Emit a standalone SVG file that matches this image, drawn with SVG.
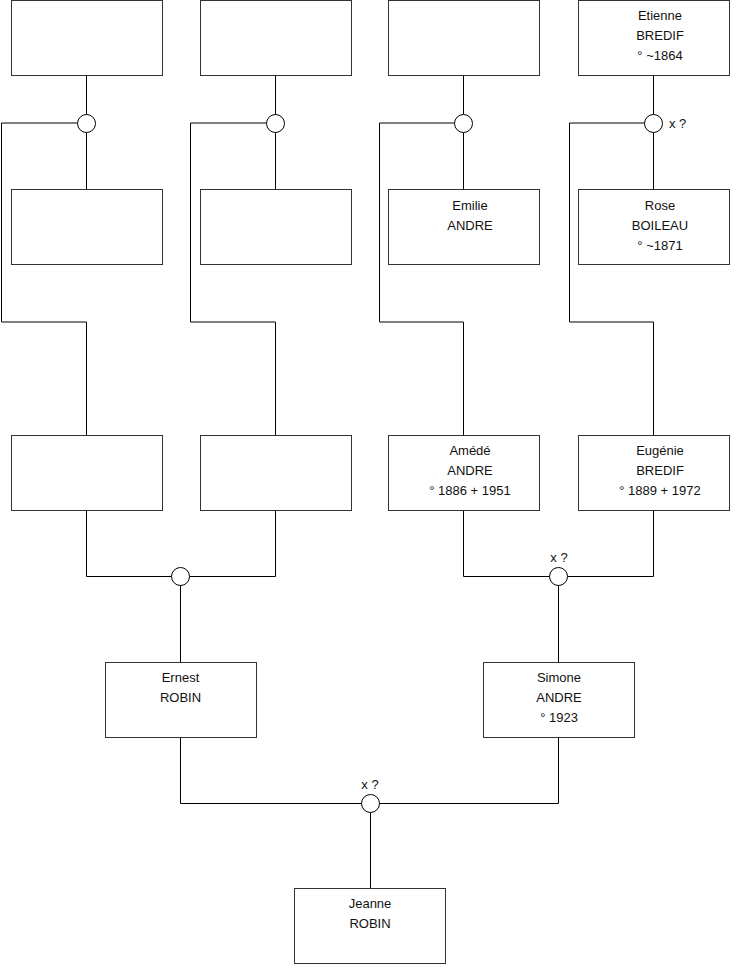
<svg xmlns="http://www.w3.org/2000/svg" width="740" height="975" viewBox="0 0 740 975">
<style>
.box{fill:#fff;stroke:#333;stroke-width:1}
.ln{fill:none;stroke:#000;stroke-width:1}
.ring{fill:#fff;stroke:#000;stroke-width:1}
text{font-family:"Liberation Sans",Arial,sans-serif;font-size:13px;fill:#111;text-anchor:middle}
.lab{text-anchor:start}
</style>
<rect width="740" height="975" fill="#fff"/>
<g id="connectors">
<path class="ln" d="M86.5 75.5V189.5M86.5 123H1.5V322H86.5V435.5"/>
<path class="ln" d="M275.5 75.5V189.5M275.5 123H190.5V322H275.5V435.5"/>
<path class="ln" d="M463.5 75.5V189.5M463.5 123H379.5V322H463.5V435.5"/>
<path class="ln" d="M653.5 75.5V189.5M653.5 123H569.5V322H653.5V435.5"/>
<path class="ln" d="M86.5 510.5V576.5H275.5V510.5M180.5 576.5V662.5"/>
<path class="ln" d="M463.5 510.5V576.5H653.5V510.5M558.5 576.5V662.5"/>
<path class="ln" d="M180.5 737.5V803.5H558.5V737.5M370.5 803.5V888.5"/>
<circle class="ring" cx="86.5" cy="123.5" r="9"/>
<circle class="ring" cx="275.5" cy="123.5" r="9"/>
<circle class="ring" cx="463.5" cy="123.5" r="9"/>
<circle class="ring" cx="653.5" cy="123.5" r="9"/>
<circle class="ring" cx="180.5" cy="576.5" r="9"/>
<circle class="ring" cx="558.5" cy="576.5" r="9"/>
<circle class="ring" cx="370.5" cy="803.5" r="9"/>
<text class="lab" x="669" y="128">x ?</text>
<text x="559" y="562">x ?</text>
<text x="370" y="789">x ?</text>
</g>
<g id="n1"><rect class="box" x="11.5" y="0.5" width="151" height="75"/></g>
<g id="n2"><rect class="box" x="200.5" y="0.5" width="151" height="75"/></g>
<g id="n3"><rect class="box" x="388.5" y="0.5" width="151" height="75"/></g>
<g id="n4"><rect class="box" x="578.5" y="0.5" width="151" height="75"/>
<text x="660" y="20">Etienne</text><text x="660" y="40">BREDIF</text><text x="660" y="60">° ~1864</text></g>
<g id="n5"><rect class="box" x="11.5" y="189.5" width="151" height="75"/></g>
<g id="n6"><rect class="box" x="200.5" y="189.5" width="151" height="75"/></g>
<g id="n7"><rect class="box" x="388.5" y="189.5" width="151" height="75"/>
<text x="470" y="210">Emilie</text><text x="470" y="230">ANDRE</text></g>
<g id="n8"><rect class="box" x="578.5" y="189.5" width="151" height="75"/>
<text x="660" y="210">Rose</text><text x="660" y="230">BOILEAU</text><text x="660" y="250">° ~1871</text></g>
<g id="n9"><rect class="box" x="11.5" y="435.5" width="151" height="75"/></g>
<g id="n10"><rect class="box" x="200.5" y="435.5" width="151" height="75"/></g>
<g id="n11"><rect class="box" x="388.5" y="435.5" width="151" height="75"/>
<text x="470" y="455">Amédé</text><text x="470" y="475">ANDRE</text><text x="470" y="495">° 1886 + 1951</text></g>
<g id="n12"><rect class="box" x="578.5" y="435.5" width="151" height="75"/>
<text x="660" y="455">Eugénie</text><text x="660" y="475">BREDIF</text><text x="660" y="495">° 1889 + 1972</text></g>
<g id="n13"><rect class="box" x="105.5" y="662.5" width="151" height="75"/>
<text x="180.5" y="682">Ernest</text><text x="180.5" y="702">ROBIN</text></g>
<g id="n14"><rect class="box" x="483.5" y="662.5" width="151" height="75"/>
<text x="559" y="682">Simone</text><text x="559" y="702">ANDRE</text><text x="559" y="722">° 1923</text></g>
<g id="n15"><rect class="box" x="294.5" y="888.5" width="151" height="75"/>
<text x="370" y="908">Jeanne</text><text x="370" y="928">ROBIN</text></g>
</svg>
